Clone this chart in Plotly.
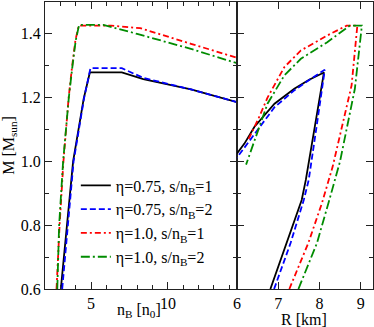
import plotly.graph_objects as go

# ---------------- data ----------------
labels = ["η=0.75, s/n<sub>B</sub>=1", "η=0.75, s/n<sub>B</sub>=2",
          "η=1.0, s/n<sub>B</sub>=1", "η=1.0, s/n<sub>B</sub>=2"]
colors = ["black", "#0000ff", "#ff0000", "#008c00"]
dashes = ["solid", "6px,3px", "6px,3px,2px,3px", "9px,3px,2px,3px"]

# left panel: M vs n_B
nB_a = [3.03, 3.44, 3.83, 4.52, 4.92, 7.0, 8.4, 11.5, 14.5]
M_nB_a = [0.6, 0.8, 1.0, 1.197, 1.279, 1.279, 1.258, 1.226, 1.186]
nB_b = [3.12, 3.48, 3.86, 4.55, 4.96, 7.0, 8.4, 11.5, 14.5]
M_nB_b = [0.6, 0.8, 1.0, 1.2, 1.2925, 1.2925, 1.262, 1.226, 1.186]
nB_c = [2.75, 2.95, 3.2, 3.54, 3.76, 3.98, 4.2, 6.3, 8.2, 9.8, 11.5, 14.5]
M_nB_c = [0.6, 0.8, 1.0, 1.2, 1.296, 1.38, 1.426, 1.426, 1.418, 1.395, 1.369, 1.325]
nB_d = [2.8, 2.92, 3.18, 3.55, 3.78, 4.0, 4.22, 5.8, 8.0, 11.5, 14.5]
M_nB_d = [0.6, 0.8, 1.0, 1.2, 1.296, 1.38, 1.428, 1.428, 1.40, 1.353, 1.308]

# right panel: M vs R
R_a = [6.81, 7.21, 7.57, 7.67, 7.87, 8.11, 7.75, 7.39, 6.91, 6.42, 6.18, 6.0]
M_R_a = [0.6, 0.744, 0.879, 0.942, 1.1, 1.279, 1.256, 1.228, 1.181, 1.108, 1.056, 1.025]
R_b = [6.9, 7.3, 7.62, 7.74, 7.92, 8.13, 7.78, 7.39, 6.91, 6.42, 6.0]
M_R_b = [0.6, 0.744, 0.879, 0.942, 1.1, 1.2875, 1.258, 1.223, 1.17, 1.087, 1.012]
R_c = [7.27, 7.73, 8.06, 8.32, 8.78, 8.92, 8.66, 8.19, 7.55, 7.15, 6.74, 6.52, 6.28]
M_R_c = [0.6, 0.744, 0.869, 0.983, 1.238, 1.426, 1.426, 1.395, 1.348, 1.296, 1.20, 1.134, 1.07]
R_d = [7.49, 7.94, 8.24, 8.5, 8.86, 9.03, 8.74, 8.19, 7.55, 7.15, 6.74, 6.48, 6.22]
M_R_d = [0.6, 0.744, 0.879, 1.0, 1.228, 1.426, 1.426, 1.374, 1.322, 1.27, 1.181, 1.088, 0.99]

left_x = [nB_a, nB_b, nB_c, nB_d]
left_y = [M_nB_a, M_nB_b, M_nB_c, M_nB_d]
right_x = [R_a, R_b, R_c, R_d]
right_y = [M_R_a, M_R_b, M_R_c, M_R_d]

y_ticks = [0.6, 0.8, 1.0, 1.2, 1.4]
nB_ticks = [5, 10]
R_ticks = [6, 7, 8, 9]

# ---------------- figure ----------------
FONT = "Liberation Serif"
fig = go.Figure()
for i in range(4):
    fig.add_trace(go.Scatter(x=left_x[i], y=left_y[i], mode="lines", name=labels[i],
                             line=dict(color=colors[i], dash=dashes[i], width=1.8),
                             xaxis="x", yaxis="y", showlegend=True))
for i in range(4):
    fig.add_trace(go.Scatter(x=right_x[i], y=right_y[i], mode="lines", name=labels[i],
                             line=dict(color=colors[i], dash=dashes[i], width=1.8),
                             xaxis="x2", yaxis="y2", showlegend=False))

split = 192 / 328
common = dict(showline=True, linecolor="#222", linewidth=1.3, mirror="allticks",
              ticks="inside", tickcolor="#222", showgrid=False, zeroline=False,
              tickfont=dict(family=FONT, size=16, color="black"))
fig.update_layout(
    width=374, height=327,
    margin=dict(l=45, r=1, t=2, b=38),
    paper_bgcolor="white", plot_bgcolor="white",
    font=dict(family=FONT, size=16, color="black"),
    xaxis=dict(domain=[0, split], range=[2, 14.5], tickvals=nB_ticks, ticklen=7,
               minor=dict(dtick=1, tick0=0, ticklen=4, ticks="inside", tickcolor="#222"),
               **common),
    yaxis=dict(range=[0.6, 1.5], tickvals=y_ticks, tickformat=".1f", ticklen=7,
               minor=dict(dtick=0.1, tick0=0, ticklen=4, ticks="inside", tickcolor="#222"),
               title=dict(text="M [M<sub>sun</sub>]", standoff=6,
                          font=dict(family=FONT, size=16)), **common),
    xaxis2=dict(domain=[split, 1], range=[6, 9.3], tickvals=R_ticks, ticklen=7,
                anchor="y2", **common),
    yaxis2=dict(range=[0.6, 1.5], tickvals=y_ticks, ticklen=7, anchor="x2",
                showticklabels=False,
                minor=dict(dtick=0.1, tick0=0, ticklen=4, ticks="inside", tickcolor="#222"),
                **common),
    legend=dict(x=0.094, y=0.42, xanchor="left", yanchor="top",
                bgcolor="rgba(0,0,0,0)", borderwidth=0,
                font=dict(family=FONT, size=16), tracegroupgap=0),
    annotations=[
        dict(text="n<sub>B</sub> [n<sub>0</sub>]", xref="paper", yref="paper",
             x=(139 - 45) / 328, y=-0.036, xanchor="center", yanchor="top",
             showarrow=False, font=dict(family=FONT, size=16)),
        dict(text="R [km]", xref="paper", yref="paper",
             x=(304 - 45) / 328, y=-0.068, xanchor="center", yanchor="top",
             showarrow=False, font=dict(family=FONT, size=16)),
    ],
)
fig.write_html("out.html", config={"displayModeBar": False},
               post_script="document.body.style.margin='0';document.body.style.padding='0';")
